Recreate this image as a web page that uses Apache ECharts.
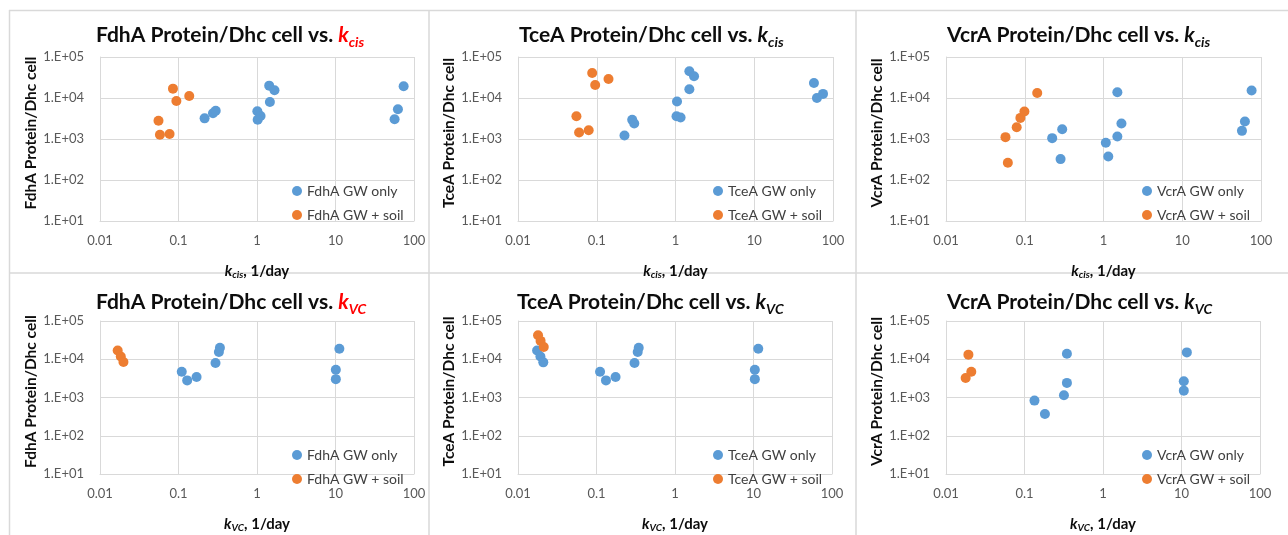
<!DOCTYPE html>
<html>
<head>
<meta charset="utf-8">
<script src="https://cdn.jsdelivr.net/npm/echarts@6/dist/echarts.min.js"></script>
<style>
html,body{margin:0;padding:0;background:#fff;}
#chart{width:1288px;height:535px;}
</style>
</head>
<body>
<div id="chart"></div>
<script>
// ---------- DATA ----------
const xTickLabels = ['0.01', '0.1', '1', '10', '100'];
const yTickLabels = ['1.E+01', '1.E+02', '1.E+03', '1.E+04', '1.E+05'];

// FdhA vs k_cis
const fdhaCisGwX   = [0.215, 0.275, 0.298, 1.01, 1.11, 1.02, 1.46, 1.43, 1.67, 56.6, 62.4, 73.8];
const fdhaCisGwY   = [3190, 4230, 4910, 4730, 3640, 2960, 7980, 20000, 15400, 3020, 5300, 19300];
const fdhaCisSoilX = [0.0556, 0.058, 0.077, 0.085, 0.094, 0.137];
const fdhaCisSoilY = [2800, 1270, 1320, 16900, 8450, 11200];

// TceA vs k_cis
const tceaCisGwX   = [0.225, 0.282, 0.299, 1.045, 1.03, 1.16, 1.5, 1.5, 1.72, 57.3, 62.5, 74.7];
const tceaCisGwY   = [1220, 2930, 2390, 8180, 3600, 3340, 16300, 44800, 33800, 23300, 10000, 12600];
const tceaCisSoilX = [0.0552, 0.0597, 0.079, 0.0875, 0.0955, 0.141];
const tceaCisSoilY = [3600, 1440, 1640, 40800, 20800, 29100];

// VcrA vs k_cis
const vcraCisGwX   = [0.223, 0.299, 0.285, 1.07, 1.15, 1.5, 1.5, 1.69, 57.3, 62.5, 76];
const vcraCisGwY   = [1050, 1730, 323, 807, 375, 1150, 13800, 2380, 1580, 2670, 15200];
const vcraCisSoilX = [0.0569, 0.061, 0.079, 0.088, 0.099, 0.144];
const vcraCisSoilY = [1110, 263, 1940, 3270, 4670, 13300];

// FdhA vs k_VC
const fdhaVcGwX   = [0.11, 0.129, 0.17, 0.296, 0.327, 0.337, 10.1, 10.1, 11.2];
const fdhaVcGwY   = [4730, 2800, 3440, 7980, 15400, 20000, 5300, 3020, 18900];
const fdhaVcSoilX = [0.0168, 0.0184, 0.0199];
const fdhaVcSoilY = [16900, 11800, 8450];

// TceA vs k_VC
const tceaVcGwX   = [0.0175, 0.0193, 0.021, 0.111, 0.132, 0.175, 0.305, 0.335, 0.345, 10.4, 10.4, 11.5];
const tceaVcGwY   = [16900, 11800, 8300, 4730, 2800, 3440, 7980, 15400, 20000, 5300, 3020, 18900];
const tceaVcSoilX = [0.018, 0.0194, 0.0213];
const tceaVcSoilY = [42300, 30200, 20800];

// VcrA vs k_VC
const vcraVcGwX   = [0.134, 0.182, 0.318, 0.347, 0.347, 10.7, 10.7, 11.7];
const vcraVcGwY   = [830, 371, 1140, 2410, 14000, 2650, 1510, 15100];
const vcraVcSoilX = [0.0193, 0.0178, 0.021];
const vcraVcSoilY = [13200, 3250, 4730];

const panels = [
  {gene: 'FdhA', k: 'cis', red: true,  gwX: fdhaCisGwX, gwY: fdhaCisGwY, soilX: fdhaCisSoilX, soilY: fdhaCisSoilY},
  {gene: 'TceA', k: 'cis', red: false, gwX: tceaCisGwX, gwY: tceaCisGwY, soilX: tceaCisSoilX, soilY: tceaCisSoilY},
  {gene: 'VcrA', k: 'cis', red: false, gwX: vcraCisGwX, gwY: vcraCisGwY, soilX: vcraCisSoilX, soilY: vcraCisSoilY},
  {gene: 'FdhA', k: 'VC',  red: true,  gwX: fdhaVcGwX,  gwY: fdhaVcGwY,  soilX: fdhaVcSoilX,  soilY: fdhaVcSoilY},
  {gene: 'TceA', k: 'VC',  red: false, gwX: tceaVcGwX,  gwY: tceaVcGwY,  soilX: tceaVcSoilX,  soilY: tceaVcSoilY},
  {gene: 'VcrA', k: 'VC',  red: false, gwX: vcraVcGwX,  gwY: vcraVcGwY,  soilX: vcraVcSoilX,  soilY: vcraVcSoilY}
];

// ---------- LAYOUT ----------
const FONT = 'Lato, "Open Sans", sans-serif';
const BLUE = '#5B9BD5', ORANGE = '#ED7D31', GRID = '#d9d9d9';
const gridPos = [
  {left: 100, top: 57, width: 314, height: 164},
  {left: 518, top: 57, width: 315, height: 164},
  {left: 946, top: 57, width: 315, height: 164},
  {left: 100, top: 321, width: 314, height: 164},
  {left: 518, top: 321, width: 314, height: 164},
  {left: 946, top: 321, width: 314, height: 164}
];
const titlePos = [
  {left: 96, top: 21}, {left: 519, top: 21}, {left: 947, top: 21},
  {left: 96, top: 288}, {left: 517, top: 288}, {left: 947, top: 288}
];
const legendPos = [
  {left: 292, top: 184}, {left: 713, top: 184}, {left: 1142, top: 184},
  {left: 292, top: 448}, {left: 713, top: 448}, {left: 1142, top: 448}
];

const zip = (xs, ys) => xs.map((x, i) => [x, ys[i]]);

const option = {
  animation: false,
  backgroundColor: '#fff',
  title: [], grid: [], xAxis: [], yAxis: [], legend: [], series: [],
  graphic: [
    {type: 'line', shape: {x1: 9, y1: 10.5, x2: 1288, y2: 10.5}, style: {stroke: GRID, lineWidth: 1.5}, silent: true},
    {type: 'line', shape: {x1: 9, y1: 273, x2: 1288, y2: 273}, style: {stroke: GRID, lineWidth: 1.5}, silent: true},
    {type: 'line', shape: {x1: 9.5, y1: 10, x2: 9.5, y2: 535}, style: {stroke: GRID, lineWidth: 1.5}, silent: true},
    {type: 'line', shape: {x1: 429, y1: 10, x2: 429, y2: 535}, style: {stroke: GRID, lineWidth: 1.5}, silent: true},
    {type: 'line', shape: {x1: 856, y1: 10, x2: 856, y2: 535}, style: {stroke: GRID, lineWidth: 1.5}, silent: true}
  ]
};

panels.forEach((p, i) => {
  option.title.push({
    text: '{t|' + p.gene + ' Protein/Dhc cell vs. }{k|k}{s|' + p.k + '}',
    left: titlePos[i].left, top: titlePos[i].top, padding: 0,
    textStyle: {
      rich: {
        t: {fontFamily: FONT, fontSize: 21, fontWeight: 'bold', color: '#0d0d0d', lineHeight: 28, verticalAlign: 'middle'},
        k: {fontFamily: FONT, fontSize: 21, fontWeight: 'bold', fontStyle: 'italic', color: p.red ? '#ff0000' : '#0d0d0d', lineHeight: 28, verticalAlign: 'middle'},
        s: {fontFamily: FONT, fontSize: 14, fontWeight: 'bold', fontStyle: 'italic', color: p.red ? '#ff0000' : '#0d0d0d', lineHeight: 28, verticalAlign: 'bottom', padding: [0, 0, 0, 0]}
      }
    }
  });
  option.grid.push(Object.assign({containLabel: false}, gridPos[i]));
  option.xAxis.push({
    type: 'log', logBase: 10, min: 0.01, max: 100, gridIndex: i,
    name: '{k|k}{s|' + p.k + '}{t|, 1/day}',
    nameLocation: 'middle', nameGap: 40,
    nameTextStyle: {
      rich: {
        k: {fontFamily: FONT, fontSize: 15, fontWeight: 'bold', fontStyle: 'italic', color: '#0d0d0d', lineHeight: 20, verticalAlign: 'middle'},
        s: {fontFamily: FONT, fontSize: 10, fontWeight: 'bold', fontStyle: 'italic', color: '#0d0d0d', lineHeight: 20, verticalAlign: 'bottom', padding: [0, 0, 1, 0]},
        t: {fontFamily: FONT, fontSize: 15, fontWeight: 'bold', color: '#0d0d0d', lineHeight: 20, verticalAlign: 'middle'}
      }
    },
    axisLine: {show: true, lineStyle: {color: GRID, width: 1}},
    axisTick: {show: false},
    splitLine: {show: true, lineStyle: {color: GRID, width: 1}},
    axisLabel: {
      fontFamily: FONT, fontSize: 13, color: '#595959', margin: 13,
      formatter: v => xTickLabels[Math.round(Math.log10(v)) + 2]
    }
  });
  option.yAxis.push({
    type: 'log', logBase: 10, min: 10, max: 100000, gridIndex: i,
    name: p.gene + ' Protein/Dhc cell',
    nameLocation: 'middle', nameGap: 60,
    nameTextStyle: {fontFamily: FONT, fontSize: 15.5, fontWeight: 'bold', color: '#0d0d0d', padding: [0, 0, 0, 12]},
    axisLine: {show: true, lineStyle: {color: GRID, width: 1}},
    axisTick: {show: false},
    splitLine: {show: true, lineStyle: {color: GRID, width: 1}},
    axisLabel: {
      fontFamily: FONT, fontSize: 13, color: '#595959', margin: 16,
      formatter: v => yTickLabels[Math.round(Math.log10(v)) - 1]
    }
  });
  const gwName = p.gene + ' GW only', soilName = p.gene + ' GW + soil';
  option.legend.push({
    orient: 'vertical', left: legendPos[i].left, top: legendPos[i].top,
    data: [gwName, soilName], icon: 'circle', itemWidth: 10, itemHeight: 10, itemGap: 10, padding: 0,
    textStyle: {fontFamily: FONT, fontSize: 14, color: '#404040'},
    selectedMode: false
  });
  option.series.push({
    type: 'scatter', name: gwName, xAxisIndex: i, yAxisIndex: i,
    data: zip(p.gwX, p.gwY), symbol: 'circle', symbolSize: 10,
    itemStyle: {color: BLUE, opacity: 1}
  });
  option.series.push({
    type: 'scatter', name: soilName, xAxisIndex: i, yAxisIndex: i,
    data: zip(p.soilX, p.soilY), symbol: 'circle', symbolSize: 10,
    itemStyle: {color: ORANGE, opacity: 1}
  });
});

const chart = echarts.init(document.getElementById('chart'), null, {renderer: 'canvas'});
chart.setOption(option);
</script>
</body>
</html>
